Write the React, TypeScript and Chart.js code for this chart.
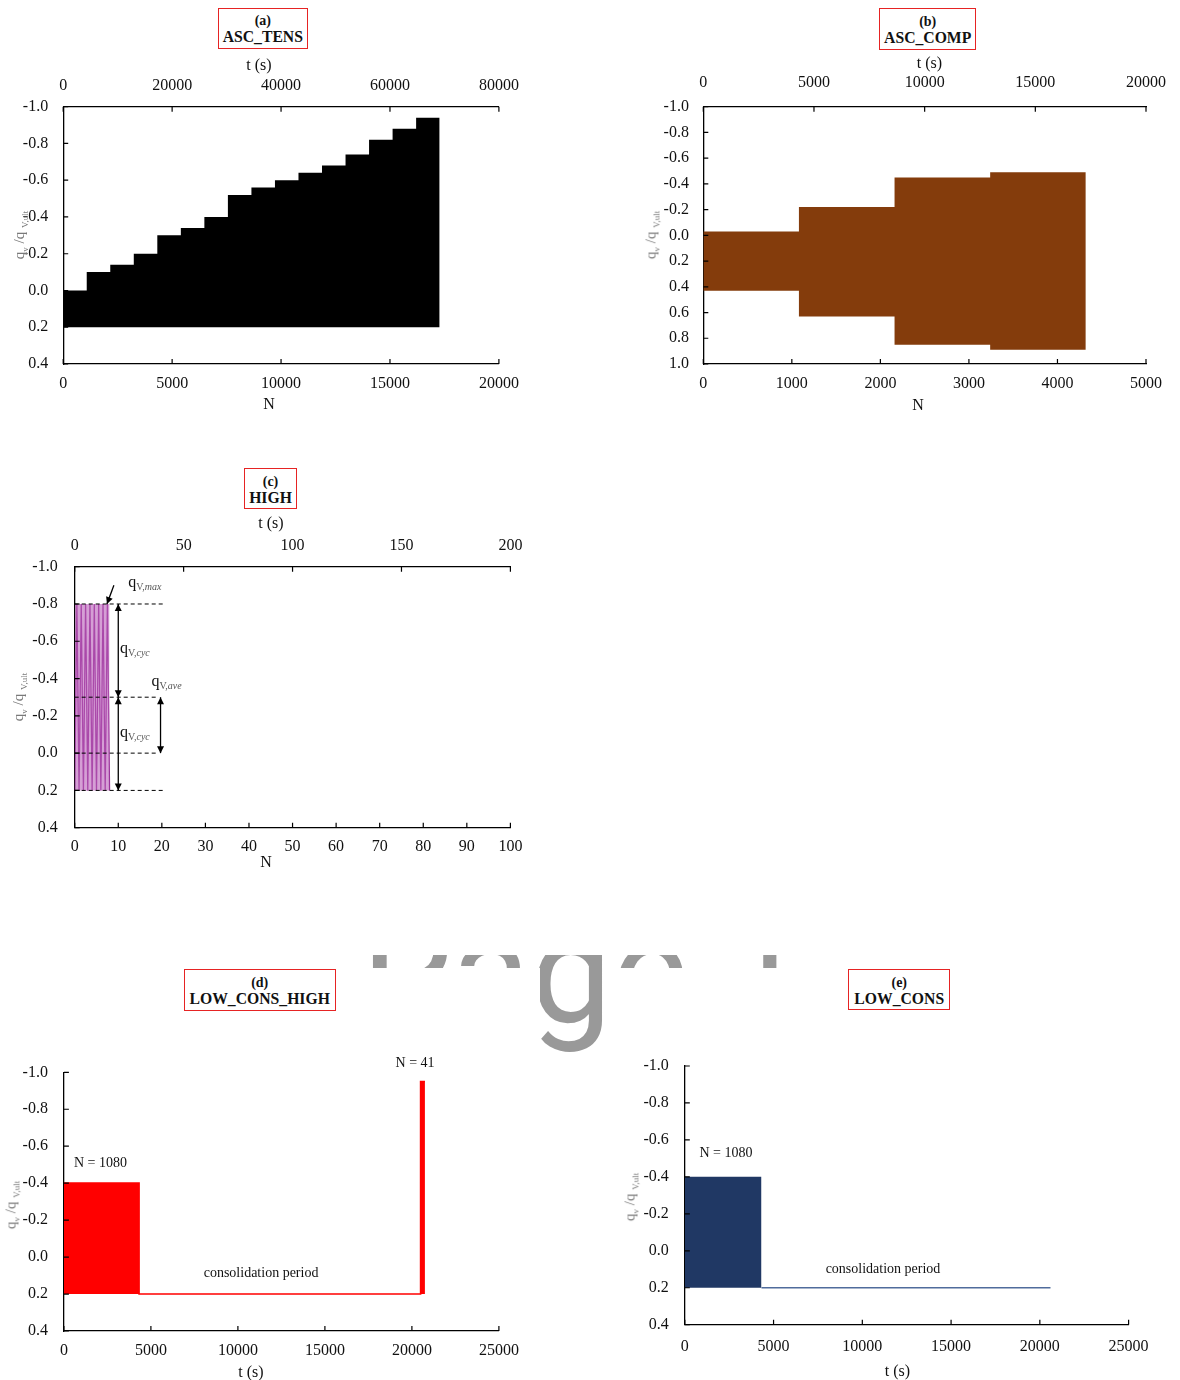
import React, { useEffect, useRef } from 'react';
import { Chart, registerables } from 'chart.js';

Chart.register(...registerables);

const SERIF = '"Liberation Serif", "Times New Roman", Times, serif';

// ---------- shared tick values ----------
const qTicksShort = [-1.0, -0.8, -0.6, -0.4, -0.2, 0.0, 0.2, 0.4];
const qTicksLong = [-1.0, -0.8, -0.6, -0.4, -0.2, 0.0, 0.2, 0.4, 0.6, 0.8, 1.0];

// ---------- (a) ASC_TENS ----------
const ascTensNTicks = [0, 5000, 10000, 15000, 20000];
const ascTensTTicks = [0, 20000, 40000, 60000, 80000];
const ascTensStageN = [0, 1080, 2160, 3240, 4320, 5400, 6480, 7560, 8640, 9720, 10800, 11880, 12960, 14040, 15120, 16200, 17280];
const ascTensQmax = [0.0, -0.1, -0.14, -0.2, -0.3, -0.34, -0.4, -0.52, -0.56, -0.6, -0.64, -0.68, -0.74, -0.82, -0.88, -0.94];
const ascTensQmin = 0.2;

// ---------- (b) ASC_COMP ----------
const ascCompNTicks = [0, 1000, 2000, 3000, 4000, 5000];
const ascCompTTicks = [0, 5000, 10000, 15000, 20000];
const ascCompStageN = [0, 1080, 2160, 3240, 4320];
const ascCompQmax = [-0.03, -0.22, -0.45, -0.49];
const ascCompQmin = [0.43, 0.63, 0.85, 0.89];

// ---------- (c) HIGH ----------
const highNTicks = [0, 10, 20, 30, 40, 50, 60, 70, 80, 90, 100];
const highTTicks = [0, 50, 100, 150, 200];
const highCycleN = [0, 0.5, 1, 1.5, 2, 2.5, 3, 3.5, 4, 4.5, 5, 5.5, 6, 6.5, 7, 7.5, 8];
const highCycleQ = [0.2, -0.8, 0.2, -0.8, 0.2, -0.8, 0.2, -0.8, 0.2, -0.8, 0.2, -0.8, 0.2, -0.8, 0.2, -0.8, 0.2];
const highQmax = -0.8;
const highQave = -0.3;
const highQmin = 0.2;

// ---------- (d) LOW_CONS_HIGH ----------
const timeTicks = [0, 5000, 10000, 15000, 20000, 25000];
const lchT = [0, 4320, 20500, 20750];
const lchQmax = [-0.4, 0.2, -0.95];
const lchQmin = 0.2;
const lchCycles = [1080, 41];

// ---------- (e) LOW_CONS ----------
const lcT = [0, 4320, 20600];
const lcQmax = [-0.4];
const lcQmin = 0.2;
const lcCycles = [1080];

// ---------- helpers ----------
const stepPts = (xs: number[], ys: number[]) =>
  xs.map((x, i) => ({ x, y: ys[Math.min(i, ys.length - 1)] }));

const fmtInt = (v: number) => String(Math.round(v));
const fmtQ = (v: number) => {
  const r = Math.round(v * 10) / 10;
  return (r === 0 ? 0 : r).toFixed(1);
};

function mkScale(position: 'left' | 'bottom' | 'top', ticks: number[], size: number, pad: number, fmt: (v: number) => string, reverse = false) {
  const horiz = position !== 'left';
  return {
    type: 'linear',
    axis: horiz ? 'x' : 'y',
    position,
    reverse,
    min: ticks[0],
    max: ticks[ticks.length - 1],
    grid: { display: false, drawTicks: false },
    border: { display: true, color: '#000', width: 1.3 },
    ticks: {
      padding: pad,
      color: '#111',
      font: { family: SERIF, size: 16 },
      maxRotation: 0,
      autoSkip: false,
      callback: (v: any) => fmt(Number(v)),
    },
    afterBuildTicks: (s: any) => {
      s.ticks = ticks.map((v) => ({ value: v }));
    },
    afterFit: (s: any) => {
      if (horiz) s.height = size;
      else s.width = size;
    },
    z: 1,
  };
}

const inwardTicks = {
  id: 'inwardTicks',
  afterDraw(chart: any) {
    const { ctx, chartArea } = chart;
    ctx.save();
    ctx.strokeStyle = '#000';
    ctx.lineWidth = 1.2;
    const len = 5;
    Object.keys(chart.scales).forEach((id) => {
      const s = chart.scales[id];
      ctx.beginPath();
      s.ticks.forEach((t: any) => {
        const p = s.getPixelForValue(t.value);
        if (s.position === 'left') {
          ctx.moveTo(chartArea.left, p);
          ctx.lineTo(chartArea.left + len, p);
        } else if (s.position === 'bottom') {
          ctx.moveTo(p, chartArea.bottom);
          ctx.lineTo(p, chartArea.bottom - len);
        } else if (s.position === 'top') {
          ctx.moveTo(p, chartArea.top);
          ctx.lineTo(p, chartArea.top + len);
        }
      });
      ctx.stroke();
    });
    ctx.restore();
  },
};

function arrowHead(ctx: any, x1: number, y1: number, x2: number, y2: number) {
  const a = Math.atan2(y2 - y1, x2 - x1);
  const L = 7;
  const W = 3.5;
  ctx.beginPath();
  ctx.moveTo(x2, y2);
  ctx.lineTo(x2 - L * Math.cos(a) + W * Math.sin(a), y2 - L * Math.sin(a) - W * Math.cos(a));
  ctx.lineTo(x2 - L * Math.cos(a) - W * Math.sin(a), y2 - L * Math.sin(a) + W * Math.cos(a));
  ctx.closePath();
  ctx.fill();
}

function arrow(ctx: any, x1: number, y1: number, x2: number, y2: number, both: boolean) {
  ctx.beginPath();
  ctx.moveTo(x1, y1);
  ctx.lineTo(x2, y2);
  ctx.stroke();
  arrowHead(ctx, x1, y1, x2, y2);
  if (both) arrowHead(ctx, x2, y2, x1, y1);
}

function qLabel(ctx: any, x: number, y: number, sub: string) {
  ctx.textAlign = 'left';
  ctx.textBaseline = 'alphabetic';
  ctx.font = `16px ${SERIF}`;
  ctx.fillStyle = '#111';
  const base = y + 4;
  ctx.fillText('q', x, base);
  let cx = x + ctx.measureText('q').width;
  ctx.font = `10px ${SERIF}`;
  ctx.fillStyle = '#555';
  ctx.fillText('V,', cx, base + 3);
  cx += ctx.measureText('V,').width;
  ctx.font = `italic 10px ${SERIF}`;
  ctx.fillText(sub, cx, base + 3);
}

const highAnnot = {
  id: 'highAnnot',
  afterDatasetsDraw(chart: any) {
    const { ctx } = chart;
    const xs = chart.scales.x;
    const ys = chart.scales.y;
    const X = (n: number) => xs.getPixelForValue(n);
    const Y = (q: number) => ys.getPixelForValue(q);
    ctx.save();
    ctx.strokeStyle = '#000';
    ctx.fillStyle = '#000';
    ctx.lineWidth = 1;
    ctx.setLineDash([4, 3]);
    const dashes: [number, number][] = [
      [highQmax, 20.2],
      [highQave, 19.2],
      [0, 19.2],
      [highQmin, 20.2],
    ];
    dashes.forEach(([q, nEnd]) => {
      ctx.beginPath();
      ctx.moveTo(X(0), Y(q));
      ctx.lineTo(X(nEnd), Y(q));
      ctx.stroke();
    });
    ctx.setLineDash([]);
    ctx.lineWidth = 1.3;
    arrow(ctx, X(10), Y(highQmax), X(10), Y(highQave), true);
    arrow(ctx, X(10), Y(highQave), X(10), Y(highQmin), true);
    arrow(ctx, X(19.7), Y(highQave), X(19.7), Y(0), true);
    arrow(ctx, X(9.0), Y(-0.9), X(7.4), Y(highQmax), false);
    qLabel(ctx, X(12.3), Y(-0.91), 'max');
    qLabel(ctx, X(10.4), Y(-0.56), 'cyc');
    qLabel(ctx, X(17.6), Y(-0.38), 'ave');
    qLabel(ctx, X(10.4), Y(-0.11), 'cyc');
    ctx.restore();
  },
};

function notesPlugin(notes: { text: string; x: number; y: number }[]) {
  return {
    id: 'notes',
    afterDatasetsDraw(chart: any) {
      const { ctx } = chart;
      const xs = chart.scales.x;
      const ys = chart.scales.y;
      ctx.save();
      ctx.font = `14px ${SERIF}`;
      ctx.fillStyle = '#111';
      ctx.textAlign = 'center';
      ctx.textBaseline = 'middle';
      notes.forEach((n) => ctx.fillText(n.text, xs.getPixelForValue(n.x), ys.getPixelForValue(n.y)));
      ctx.restore();
    },
  };
}

const baseOptions = (padding: any, scales: any) => ({
  responsive: false,
  animation: false,
  events: [],
  layout: { padding },
  plugins: { legend: { display: false }, tooltip: { enabled: false } },
  elements: { point: { radius: 0 } },
  scales,
});

// ---------- configs ----------
const cfgA = () => ({
  type: 'line',
  data: {
    datasets: [
      {
        data: stepPts(ascTensStageN, ascTensQmax),
        stepped: true,
        borderWidth: 0,
        borderColor: '#000',
        backgroundColor: '#000',
        fill: { value: ascTensQmin },
        pointRadius: 0,
        xAxisID: 'x',
        yAxisID: 'y',
      },
    ],
  },
  options: baseOptions({ left: 0, right: 41.1, top: 0, bottom: 0 }, {
    x: mkScale('bottom', ascTensNTicks, 36, 10.4, fmtInt),
    x2: mkScale('top', ascTensTTicks, 36.7, 11.1, fmtInt),
    y: mkScale('left', qTicksShort, 63.2, 15, fmtQ, true),
  }),
  plugins: [inwardTicks],
});

const BROWN = '#843C0C';
const cfgB = () => ({
  type: 'line',
  data: {
    datasets: [
      {
        data: stepPts(ascCompStageN, ascCompQmax),
        stepped: true,
        borderWidth: 0,
        borderColor: BROWN,
        backgroundColor: BROWN,
        fill: '+1',
        pointRadius: 0,
        xAxisID: 'x',
        yAxisID: 'y',
      },
      {
        data: stepPts(ascCompStageN, ascCompQmin),
        stepped: true,
        borderWidth: 0,
        borderColor: BROWN,
        backgroundColor: BROWN,
        fill: false,
        pointRadius: 0,
        xAxisID: 'x',
        yAxisID: 'y',
      },
    ],
  },
  options: baseOptions({ left: 0, right: 25.2, top: 0, bottom: 0 }, {
    x: mkScale('bottom', ascCompNTicks, 36, 10.4, fmtInt),
    x2: mkScale('top', ascCompTTicks, 36.7, 14, fmtInt),
    y: mkScale('left', qTicksLong, 83.3, 14.4, fmtQ, true),
  }),
  plugins: [inwardTicks],
});

const cfgC = () => ({
  type: 'line',
  data: {
    datasets: [
      {
        data: stepPts([highCycleN[0], highCycleN[highCycleN.length - 1]], [highQmax]),
        stepped: true,
        borderWidth: 0,
        backgroundColor: 'rgba(185,95,185,0.6)',
        fill: { value: highQmin },
        pointRadius: 0,
        xAxisID: 'x',
        yAxisID: 'y',
      },
      {
        data: highCycleN.map((n, i) => ({ x: n, y: highCycleQ[i] })),
        borderWidth: 1.3,
        borderColor: '#952A95',
        fill: false,
        pointRadius: 0,
        xAxisID: 'x',
        yAxisID: 'y',
      },
    ],
  },
  options: baseOptions({ left: 0, right: 49.6, top: 0, bottom: 0 }, {
    x: mkScale('bottom', highNTicks, 42.3, 9.7, fmtInt),
    x2: mkScale('top', highTTicks, 36.7, 11.1, fmtInt),
    y: mkScale('left', qTicksShort, 74.7, 17, fmtQ, true),
  }),
  plugins: [inwardTicks, highAnnot],
});

const cfgD = () => ({
  type: 'line',
  data: {
    datasets: [
      {
        data: stepPts(lchT, lchQmax),
        stepped: true,
        borderWidth: 1.6,
        borderColor: '#FF0000',
        backgroundColor: '#FF0000',
        fill: { value: lchQmin },
        pointRadius: 0,
        xAxisID: 'x',
        yAxisID: 'y',
      },
    ],
  },
  options: baseOptions({ left: 0, right: 41.1, top: 32.3, bottom: 0 }, {
    x: mkScale('bottom', timeTicks, 49, 10.5, fmtInt),
    y: mkScale('left', qTicksShort, 63.9, 16, fmtQ, true),
  }),
  plugins: [
    inwardTicks,
    notesPlugin([
      { text: `N = ${lchCycles[0]}`, x: 2100, y: -0.51 },
      { text: `N = ${lchCycles[1]}`, x: 20180, y: -1.05 },
      { text: 'consolidation period', x: 11330, y: 0.09 },
    ]),
  ],
});

const NAVY = '#203864';
const cfgE = () => ({
  type: 'line',
  data: {
    datasets: [
      {
        data: stepPts([lcT[0], lcT[1]], lcQmax),
        stepped: true,
        borderWidth: 0,
        backgroundColor: NAVY,
        fill: { value: lcQmin },
        pointRadius: 0,
        xAxisID: 'x',
        yAxisID: 'y',
      },
      {
        data: [
          { x: lcT[1], y: lcQmin },
          { x: lcT[2], y: lcQmin },
        ],
        borderWidth: 1.6,
        borderColor: '#506C9C',
        fill: false,
        pointRadius: 0,
        xAxisID: 'x',
        yAxisID: 'y',
      },
    ],
  },
  options: baseOptions({ left: 0, right: 51.4, top: 26, bottom: 0 }, {
    x: mkScale('bottom', timeTicks, 55.3, 12.4, fmtInt),
    y: mkScale('left', qTicksShort, 84.8, 16, fmtQ, true),
  }),
  plugins: [
    inwardTicks,
    notesPlugin([
      { text: `N = ${lcCycles[0]}`, x: 2320, y: -0.53 },
      { text: 'consolidation period', x: 11165, y: 0.1 },
    ]),
  ],
});

// ---------- components ----------
type Box = { left: number; top: number; width: number; height: number };

function ChartCanvas({ box, make }: { box: Box; make: () => any }) {
  const ref = useRef<HTMLCanvasElement>(null);
  useEffect(() => {
    const chart = new Chart(ref.current as HTMLCanvasElement, make());
    return () => chart.destroy();
  }, []);
  return (
    <canvas
      ref={ref}
      width={box.width}
      height={box.height}
      style={{ position: 'absolute', left: box.left, top: box.top, width: box.width, height: box.height }}
    />
  );
}

function TitleBox({ left, top, width, height, tag, name }: any) {
  return (
    <div
      style={{
        position: 'absolute',
        left,
        top,
        width,
        height,
        boxSizing: 'border-box',
        border: '1.5px solid #E62323',
        display: 'flex',
        flexDirection: 'column',
        alignItems: 'center',
        justifyContent: 'center',
        fontFamily: SERIF,
        fontWeight: 'bold',
        color: '#111',
        lineHeight: '16px',
        paddingTop: 2,
        whiteSpace: 'nowrap',
      }}
    >
      <div style={{ fontSize: 14 }}>{tag}</div>
      <div style={{ fontSize: 15.7 }}>{name}</div>
    </div>
  );
}

function Lbl({ cx, cy, text, size = 16 }: any) {
  return (
    <div
      style={{
        position: 'absolute',
        left: cx,
        top: cy,
        transform: 'translate(-50%, -50%)',
        fontFamily: SERIF,
        fontSize: size,
        lineHeight: 1,
        color: '#111',
        whiteSpace: 'nowrap',
      }}
    >
      {text}
    </div>
  );
}

function YTitle({ cx, cy }: any) {
  return (
    <div
      style={{
        position: 'absolute',
        left: cx,
        top: cy,
        transform: 'translate(-50%, -50%) rotate(-90deg)',
        fontFamily: SERIF,
        fontSize: 15,
        lineHeight: '15px',
        color: '#7a7a7a',
        whiteSpace: 'nowrap',
      }}
    >
      q<sub style={{ fontSize: 9, lineHeight: 0 }}>v</sub> /q <sub style={{ fontSize: 9, lineHeight: 0 }}>V,ult</sub>
    </div>
  );
}

export default function App() {
  return (
    <div style={{ position: 'absolute', left: 0, top: 0, width: 1180, height: 1380, background: '#fff', overflow: 'hidden' }}>
      <div
        style={{
          position: 'absolute',
          left: 361,
          top: 900,
          width: 460,
          height: 170,
          fontFamily: 'Roboto, "Noto Sans", sans-serif',
          fontSize: 145,
          lineHeight: '145px',
          color: '#999',
          whiteSpace: 'nowrap',
          clipPath: 'polygon(9px 55px, 429px 55px, 429px 68px, 244px 68px, 244px 156px, 179px 156px, 179px 68px, 9px 68px)',
        }}
      >
        Page 1
      </div>

      <ChartCanvas box={{ left: 0, top: 70, width: 540, height: 330 }} make={cfgA} />
      <ChartCanvas box={{ left: 620, top: 70, width: 560, height: 330 }} make={cfgB} />
      <ChartCanvas box={{ left: 0, top: 530, width: 560, height: 340 }} make={cfgC} />
      <ChartCanvas box={{ left: 0, top: 1040, width: 540, height: 340 }} make={cfgD} />
      <ChartCanvas box={{ left: 600, top: 1040, width: 580, height: 340 }} make={cfgE} />

      <TitleBox left={218} top={8} width={89.6} height={40.7} tag="(a)" name="ASC_TENS" />
      <TitleBox left={879} top={8.3} width={97.4} height={41.7} tag="(b)" name="ASC_COMP" />
      <TitleBox left={244} top={468} width={53} height={41} tag="(c)" name="HIGH" />
      <TitleBox left={183.8} top={969.3} width={151.8} height={41.4} tag="(d)" name="LOW_CONS_HIGH" />
      <TitleBox left={848.3} top={969.3} width={101.9} height={40.7} tag="(e)" name="LOW_CONS" />

      <Lbl cx={259} cy={65} text="t (s)" />
      <Lbl cx={929.4} cy={62.7} text="t (s)" />
      <Lbl cx={271} cy={523} text="t (s)" />
      <Lbl cx={251} cy={1371.7} text="t (s)" />
      <Lbl cx={897.4} cy={1370.7} text="t (s)" />

      <Lbl cx={269} cy={404} text="N" />
      <Lbl cx={918} cy={405} text="N" />
      <Lbl cx={266} cy={862} text="N" />

      <YTitle cx={19} cy={235} />
      <YTitle cx={651} cy={235} />
      <YTitle cx={18} cy={697} />
      <YTitle cx={11} cy={1205} />
      <YTitle cx={630} cy={1197} />
    </div>
  );
}
